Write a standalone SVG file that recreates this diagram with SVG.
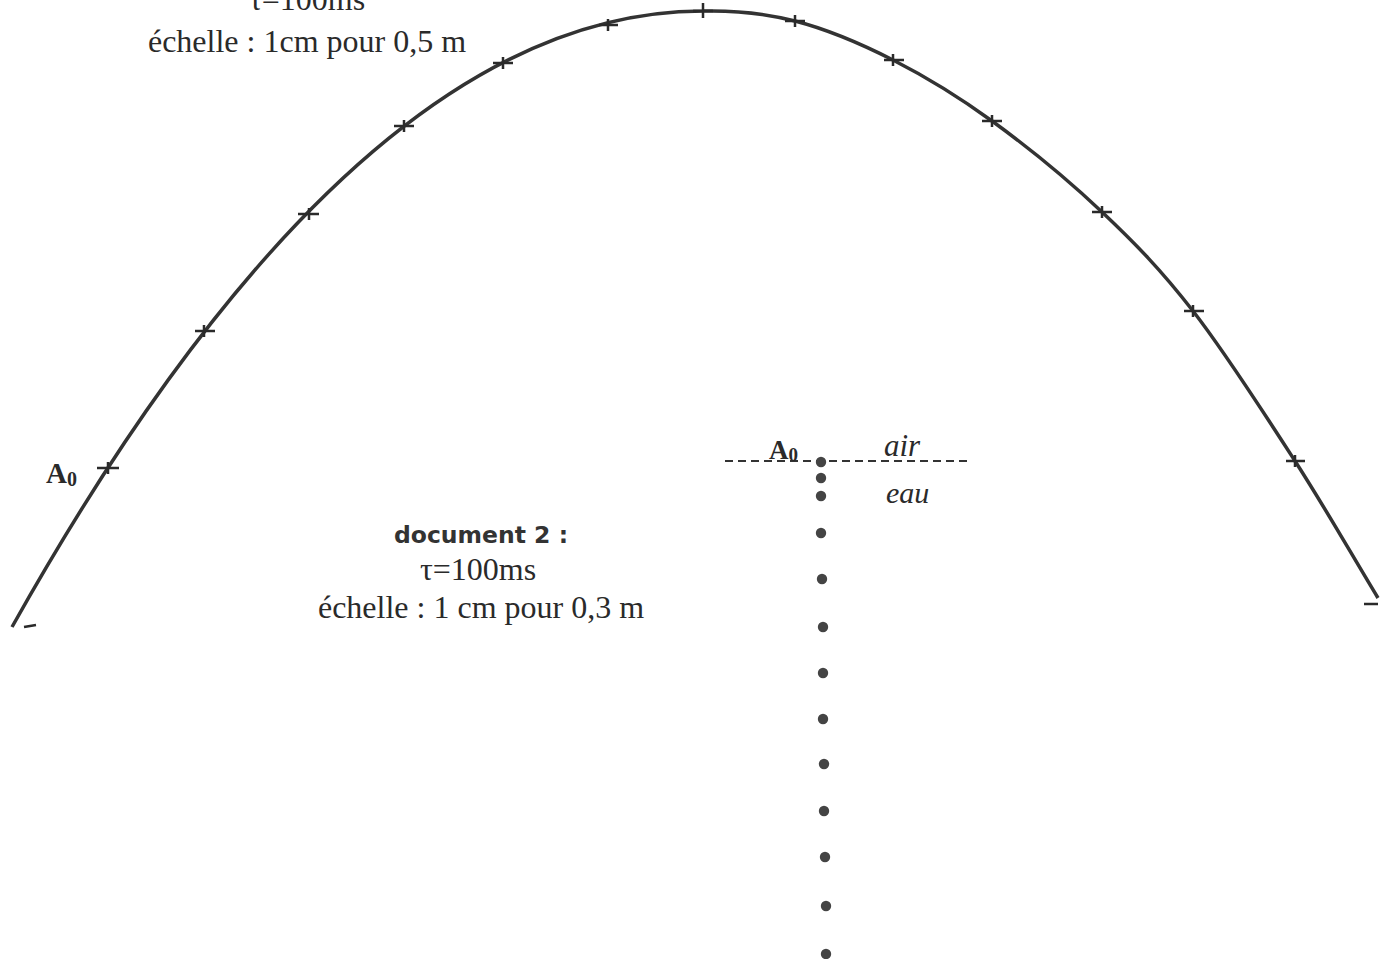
<svg xmlns="http://www.w3.org/2000/svg" width="1387" height="959" viewBox="0 0 1387 959">
<style>
.serif{font-family:"Liberation Serif","Times New Roman",serif;fill:#2a2a2a}
.sans{font-family:"DejaVu Sans","Verdana",sans-serif;font-weight:bold;fill:#333}
.tick{stroke:#2a2a2a;stroke-width:2.5;fill:none}
.dot{fill:#444}
</style>
<rect width="1387" height="959" fill="#fff"/>
<g id="trajectory">
<path d="M12,627 Q357.5,11 703,11 C734.2,10.3 763.3,12.8 795,21 C826.7,29.2 860.2,43.3 893,60 C925.8,76.7 957.2,95.7 992,121 C1026.8,146.3 1068.5,180.3 1102,212 C1135.5,243.7 1160.8,269.5 1193,311 C1225.2,352.5 1264.2,413.2 1295,461 C1325.8,508.8 1350.3,552.3 1378,598" fill="none" stroke="#333" stroke-width="3.5"/>
<g class="tick">
<path d="M97,468h22M108,462v12M195,331h20M204,325v12M298,214h21M309,208v12M394,126h20M404,120v12M493,63h20M503,57v12M599,25h19M608,19v12M693,11h20M703,3v15M785,21h20M795,15v12M884,60h20M893,54v12M982,121h20M992,115v12M1092,212h20M1102,206v12M1184,311h20M1193,305v12M1286,461h19M1295,455v12"/>
<path d="M24,627l12,-2M1364,604h14"/>
</g>
</g>
<g id="doc1-label">
<text class="serif" x="307" y="10" font-size="32" text-anchor="middle">τ=100ms</text>
<text class="serif" x="307" y="52" font-size="32" text-anchor="middle">échelle : 1cm pour 0,5 m</text>
</g>
<g id="A0-left">
<text class="serif" x="46" y="483" font-size="29" font-weight="bold">A<tspan font-size="20" dy="3">0</tspan></text>
</g>
<g id="doc2-label">
<text class="sans" x="481" y="543" font-size="23.5" text-anchor="middle">document 2 :</text>
<text class="serif" x="478" y="580" font-size="32" text-anchor="middle">τ=100ms</text>
<text class="serif" x="481" y="618" font-size="32" text-anchor="middle">échelle : 1 cm pour 0,3 m</text>
</g>
<g id="surface">
<line x1="725" y1="461" x2="970" y2="461" stroke="#333" stroke-width="2" stroke-dasharray="8,5"/>
<text class="serif" x="769" y="459" font-size="27" font-weight="bold">A<tspan font-size="19" dy="2">0</tspan></text>
<text class="serif" x="884" y="456" font-size="31" font-style="italic">air</text>
<text class="serif" x="886" y="503" font-size="30" font-style="italic">eau</text>
</g>
<g id="drops">
<circle class="dot" cx="821" cy="462" r="5.2"/>
<circle class="dot" cx="821" cy="478" r="5.2"/>
<circle class="dot" cx="821" cy="496" r="5.2"/>
<circle class="dot" cx="821" cy="533" r="5.2"/>
<circle class="dot" cx="822" cy="579" r="5.2"/>
<circle class="dot" cx="823" cy="627" r="5.2"/>
<circle class="dot" cx="823" cy="673" r="5.2"/>
<circle class="dot" cx="823" cy="719" r="5.2"/>
<circle class="dot" cx="824" cy="764" r="5.2"/>
<circle class="dot" cx="824" cy="811" r="5.2"/>
<circle class="dot" cx="825" cy="857" r="5.2"/>
<circle class="dot" cx="826" cy="906" r="5.2"/>
<circle class="dot" cx="826" cy="954" r="5.2"/>
</g>
</svg>
